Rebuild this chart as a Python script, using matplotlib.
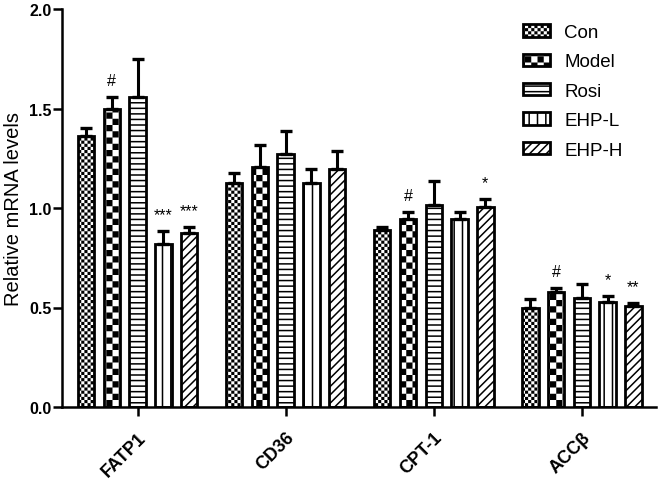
import numpy as np
import matplotlib
matplotlib.use('Agg')
import matplotlib.pyplot as plt
import matplotlib.hatch as mhatch
from matplotlib.path import Path

# gene groups and treatment series
genes = ['FATP1', 'CD36', 'CPT-1', 'ACCβ']
groups = ['Con', 'Model', 'Rosi', 'EHP-L', 'EHP-H']

con_mean = [1.36, 1.127, 0.888, 0.495]
con_err = [0.04, 0.05, 0.018, 0.047]
model_mean = [1.495, 1.207, 0.946, 0.578]
model_err = [0.065, 0.109, 0.035, 0.022]
rosi_mean = [1.56, 1.272, 1.013, 0.547]
rosi_err = [0.19, 0.117, 0.125, 0.071]
ehpl_mean = [0.82, 1.127, 0.943, 0.528]
ehpl_err = [0.065, 0.07, 0.038, 0.03]
ehph_mean = [0.876, 1.197, 1.006, 0.508]
ehph_err = [0.03, 0.089, 0.041, 0.017]

con_sig = ['', '', '', '']
model_sig = ['#', '', '#', '#']
rosi_sig = ['', '', '', '']
ehpl_sig = ['***', '', '', '*']
ehph_sig = ['***', '', '*', '**']

yticks = [0.0, 0.5, 1.0, 1.5, 2.0]


class Checker(mhatch.HatchPatternBase):
    """Filled checkerboard hatch (matplotlib has none built in)."""
    char = 'O'
    cells = 16

    def __init__(self, hatch, density):
        self.n = self.cells if self.char in hatch else 0
        self.num_vertices = (self.n * self.n // 2) * 5

    def set_vertices_and_codes(self, vertices, codes):
        n = self.n
        s = 1.0 / n
        pad = (plt.rcParams['hatch.linewidth'] / 72.0) / 2.0
        k = 0
        for i in range(n):
            for j in range(n):
                if (i + j) % 2:
                    continue
                x0, y0 = i * s + pad, j * s + pad
                x1, y1 = (i + 1) * s - pad, (j + 1) * s - pad
                vertices[k:k + 5] = [(x0, y0), (x1, y0), (x1, y1), (x0, y1), (x0, y0)]
                codes[k:k + 5] = [Path.MOVETO, Path.LINETO, Path.LINETO,
                                  Path.LINETO, Path.CLOSEPOLY]
                k += 5


class FineChecker(Checker):
    char = '.'
    cells = 32


mhatch._hatch_types[:] = [mhatch.HorizontalHatch, mhatch.VerticalHatch,
                          mhatch.NorthEastHatch, mhatch.SouthEastHatch,
                          FineChecker, Checker]

plt.rcParams['font.family'] = ['Liberation Sans', 'DejaVu Sans']
plt.rcParams['hatch.linewidth'] = 1.1
plt.rcParams['hatch.color'] = 'black'

means = [con_mean, model_mean, rosi_mean, ehpl_mean, ehph_mean]
errs = [con_err, model_err, rosi_err, ehpl_err, ehph_err]
sigs = [con_sig, model_sig, rosi_sig, ehpl_sig, ehph_sig]
hatches = ['.', 'O', '---', '||', '////']

fig = plt.figure(figsize=(6.61, 4.85), dpi=100)
ax = fig.add_axes([62 / 661, 77 / 485, 594 / 661, 398 / 485])

x = np.arange(len(genes))
pitch = 0.174
width = 0.111

for i, name in enumerate(groups):
    xs = x + (i - 2) * pitch
    ax.bar(xs, means[i], width, facecolor='white', edgecolor='black',
           linewidth=2.0, hatch=hatches[i], label=name, zorder=2)
    ax.errorbar(xs, means[i], yerr=[np.zeros(len(genes)), errs[i]], fmt='none',
                ecolor='black', elinewidth=2.2, capsize=4.5, capthick=2.4, zorder=3)
    for xi, m, e, s in zip(xs, means[i], errs[i], sigs[i]):
        if s:
            ax.annotate(s, (xi, m + e), xytext=(0, 6), textcoords='offset points',
                        ha='center', va='bottom', fontsize=11.5)

ax.set_xlim(-0.51, 3.50)
ax.set_ylim(0, 2.0)
ax.set_yticks(yticks)
ax.set_yticklabels([f'{t:.1f}' for t in yticks], fontsize=11.5, fontweight='bold')
ax.set_xticks(x)
ax.set_xticklabels(genes, fontsize=13, fontweight='bold', rotation=45,
                   ha='right', va='top', rotation_mode='anchor')
ax.tick_params(axis='both', direction='out', length=6.5, width=1.8, pad=1)
ax.tick_params(axis='x', pad=9)
ax.set_ylabel('Relative mRNA levels', fontsize=14.5)
ax.yaxis.set_label_coords(-0.066, 0.5)

for side in ['top', 'right']:
    ax.spines[side].set_visible(False)
for side in ['left', 'bottom']:
    ax.spines[side].set_linewidth(1.8)

ax.legend(loc='upper left', bbox_to_anchor=(523 / 661, 1 - 25 / 485),
          bbox_transform=fig.transFigure, frameon=False, fontsize=13.5,
          handlelength=1.44, handleheight=0.64, handletextpad=0.75,
          labelspacing=0.66, borderpad=0, borderaxespad=0)

fig.savefig('out.png', dpi=100)
